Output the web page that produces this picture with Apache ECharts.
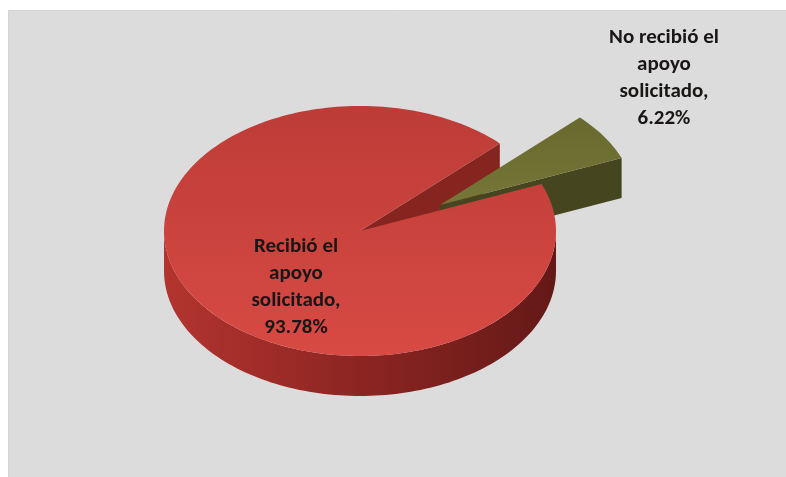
<!DOCTYPE html>
<html>
<head>
<meta charset="utf-8">
<script src="https://cdn.jsdelivr.net/npm/echarts@6/dist/echarts.min.js"></script>
<style>
  html, body { margin: 0; padding: 0; background: #ffffff; }
  #chart { width: 786px; height: 477px; }
</style>
</head>
<body>
<div id="chart"></div>
<script>
// Slices of the pie, in drawing order (clockwise)
const categories = ['Recibió el apoyo solicitado', 'No recibió el apoyo solicitado'];
const values = [93.78, 6.22];
const labelLines = [
  ['Recibió el', 'apoyo', 'solicitado,', '93.78%'],
  ['No recibió el', 'apoyo', 'solicitado,', '6.22%']
];

// Geometry of the tilted disc
const geo = { cx: 360, cy: 231, rx: 196, ry: 125, depth: 40, startAngle: 22.1 };
// Per-slice look: pull-out offset, label anchor, colours
const sliceStyle = [
  { dx: 0, dy: 0, labelX: 296, labelY: 287,
    top: ['#bd3c37', '#d84a44'], side: ['#b3342f', '#8c2522', '#641917'], cut: '#862420' },
  { dx: 80, dy: -26, labelX: 664, labelY: 78,
    top: ['#68692e', '#757637'], side: ['#4a4b22', '#3f401c', '#363718'], cut: '#45461f' }
];

const total = values.reduce((a, b) => a + b, 0);
const spans = [];
(function () {
  let a = geo.startAngle;
  values.forEach(v => {
    const sweep = v / total * 360;
    spans.push({ a0: a, a1: a - sweep });
    a -= sweep;
  });
})();

function pt(angle, s, down) {
  const r = angle * Math.PI / 180;
  return [geo.cx + s.dx + geo.rx * Math.cos(r),
          geo.cy + s.dy - geo.ry * Math.sin(r) + (down ? geo.depth : 0)];
}
function arc(from, to, s, down) {
  const n = Math.max(2, Math.ceil(Math.abs(from - to) / 1.5));
  const out = [];
  for (let i = 0; i <= n; i++) out.push(pt(from + (to - from) * i / n, s, down));
  return out;
}
const LG = (x0, y0, x1, y1, cols) => new echarts.graphic.LinearGradient(x0, y0, x1, y1,
  cols.map((c, i) => ({ offset: i / (cols.length - 1), color: c })));

// Walls: the outer rim facing the viewer and the visible radial cuts
function renderSides(params, api) {
  const i = params.dataIndex;
  const s = sliceStyle[i];
  const { a0, a1 } = spans[i];
  const children = [];
  const hi = Math.max(a0, a1), lo = Math.min(a0, a1);
  for (let k = -2; k <= 1; k++) {
    const vLo = Math.max(lo, k * 360 - 180), vHi = Math.min(hi, k * 360);
    if (vHi > vLo) {
      const pts = arc(vLo, vHi, s, false).concat(arc(vHi, vLo, s, true));
      children.push({ type: 'polygon', shape: { points: pts },
        style: { fill: LG(0, 0, 1, 0, s.side), stroke: null } });
    }
  }
  // radial cut faces
  [[a0, a0 + 90], [a1, a1 - 90]].forEach(([edge, normal]) => {
    if (Math.sin(normal * Math.PI / 180) < 0) {
      const apexT = [geo.cx + s.dx, geo.cy + s.dy];
      const apexB = [apexT[0], apexT[1] + geo.depth];
      children.push({ type: 'polygon',
        shape: { points: [apexT, pt(edge, s, false), pt(edge, s, true), apexB] },
        style: { fill: s.cut, stroke: null } });
    }
  });
  return { type: 'group', children };
}

// Top faces and their labels
function renderTops(params, api) {
  const i = params.dataIndex;
  const s = sliceStyle[i];
  const { a0, a1 } = spans[i];
  const apex = [geo.cx + s.dx, geo.cy + s.dy];
  const pts = [apex].concat(arc(a0, a1, s, false));
  return {
    type: 'group',
    children: [
      { type: 'polygon', shape: { points: pts },
        style: { fill: LG(0, 0, 0, 1, s.top), stroke: null } },
      { type: 'text', x: s.labelX, y: s.labelY,
        style: {
          text: labelLines[i].join('\n'),
          fill: '#1a1616',
          font: 'bold 21px Carlito, "Liberation Sans Narrow", "Open Sans", sans-serif',
          lineHeight: 27,
          align: 'center',
          verticalAlign: 'middle'
        } }
    ]
  };
}

const chart = echarts.init(document.getElementById('chart'), null, { renderer: 'canvas' });
chart.setOption({
  backgroundColor: '#ffffff',
  animation: false,
  graphic: [{
    type: 'rect', left: 8, top: 10, z: -10,
    shape: { width: 778, height: 467 },
    style: { fill: '#dcdcdc', stroke: '#d4d4d4', lineWidth: 1 }
  }],
  series: [
    { type: 'custom', name: 'sides', coordinateSystem: 'none', z: 2,
      renderItem: renderSides,
      data: values.map((v, i) => ({ name: categories[i], value: v })) },
    { type: 'custom', name: 'tops', coordinateSystem: 'none', z: 3,
      renderItem: renderTops,
      data: values.map((v, i) => ({ name: categories[i], value: v })) }
  ]
});
</script>
</body>
</html>
